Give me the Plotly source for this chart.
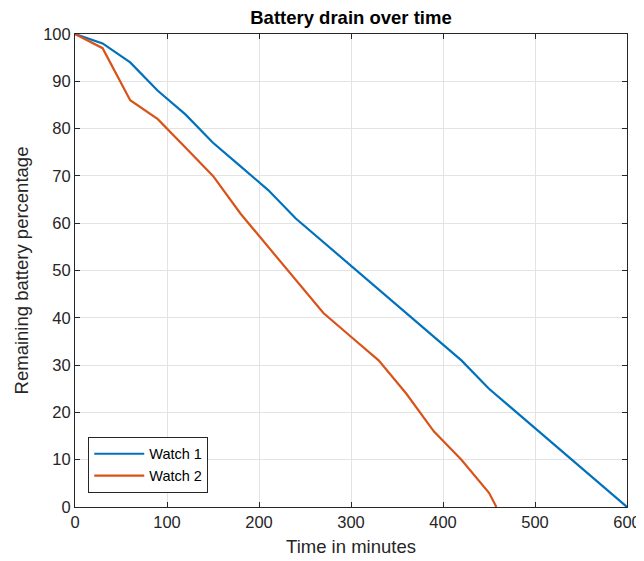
import plotly.graph_objects as go

time_w1 = [0, 30, 60, 90, 120, 150, 180, 210, 240, 270, 300, 330, 360, 390, 420, 450, 600]
batt_w1 = [100, 98, 94, 88, 83, 77, 72, 67, 61, 56, 51, 46, 41, 36, 31, 25, 0]
time_w2 = [0, 30, 60, 90, 120, 150, 180, 210, 240, 270, 300, 330, 360, 390, 420, 450, 458]
batt_w2 = [100, 97, 86, 82, 76, 70, 62, 55, 48, 41, 36, 31, 24, 16, 10, 3, 0]
x_ticks = [0, 100, 200, 300, 400, 500, 600]
y_ticks = [0, 10, 20, 30, 40, 50, 60, 70, 80, 90, 100]

fig = go.Figure()
fig.add_trace(go.Scatter(x=time_w1, y=batt_w1, mode="lines", name="Watch 1",
                         line=dict(color="#0072BD", width=2.2)))
fig.add_trace(go.Scatter(x=time_w2, y=batt_w2, mode="lines", name="Watch 2",
                         line=dict(color="#D95319", width=2.2)))

axis_common = dict(
    showline=True, linecolor="#262626", linewidth=1, mirror="ticks",
    ticks="inside", ticklen=5, tickcolor="#262626",
    showgrid=True, gridcolor="#E3E3E3", gridwidth=1,
    zeroline=False, tickfont=dict(size=16.5, color="#262626"),
    automargin=False,
)

H = 553
fig.update_layout(
    width=636, height=H,
    margin=dict(l=67, r=17, t=26, b=H - 499),
    paper_bgcolor="white", plot_bgcolor="white",
    font=dict(family="Liberation Sans, Arial, sans-serif", color="#262626"),
    title=dict(text="<b>Battery drain over time</b>", x=0.5, xref="paper", xanchor="center",
               yref="container", y=1 - 10 / H, yanchor="middle",
               font=dict(size=18.5, color="#000000")),
    xaxis=dict(range=[0, 600], tickvals=x_ticks,
               title=dict(text="Time in minutes", font=dict(size=18.5), standoff=10),
               **axis_common),
    yaxis=dict(range=[0, 100], tickvals=y_ticks,
               title=dict(text="Remaining battery percentage", font=dict(size=18.5), standoff=9),
               **axis_common),
    legend=dict(x=0.024, y=0.03, xanchor="left", yanchor="bottom",
                bgcolor="white", bordercolor="#262626", borderwidth=1,
                font=dict(size=14.5, color="#000000"), tracegroupgap=0,
                itemwidth=50),
    showlegend=True,
)

fig.write_html("out.html")
